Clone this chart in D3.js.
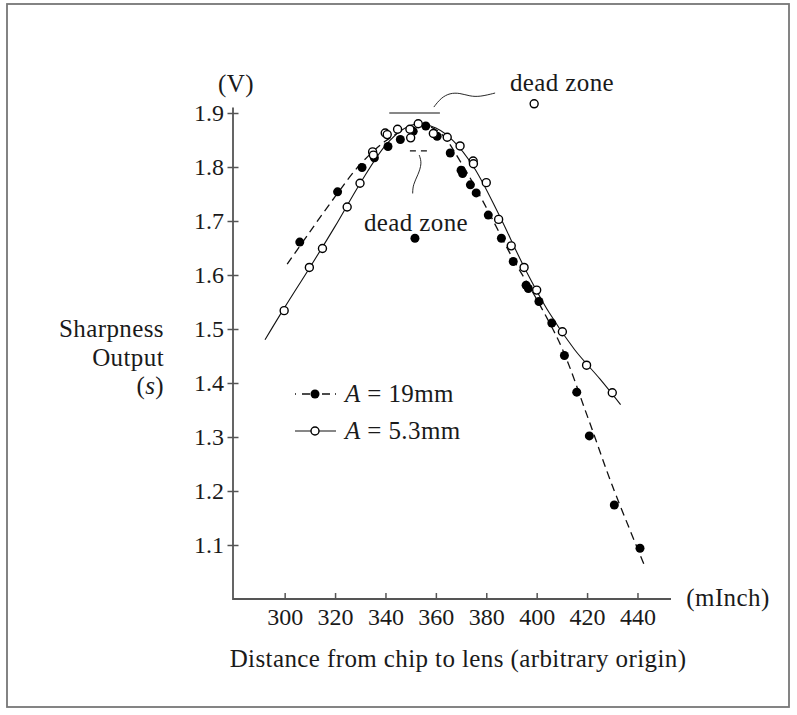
<!DOCTYPE html>
<html lang="en">
  <head>
    <meta charset="UTF-8" />
    <title>Sharpness Output</title>
    <script src="https://d3js.org/d3.v7.min.js"></script>
    <style>
      body { margin: 0; background: #fff; }
      text { font-family: "Liberation Serif", "DejaVu Serif", serif; fill: #1a1a1a; }
      .lab { letter-spacing: 0.4px; }
    </style>
  </head>
  <body></body>
  <script>
    // A = 19mm (filled dots, dashed fit)
    var filledX = [306, 321, 330.7, 335.6, 341, 345.9, 351, 356, 360.5, 365.7, 370, 370.6, 373.7, 376,
                   380.8, 386, 390.7, 395.8, 396.7, 400.9, 406, 411, 415.9, 420.9, 430.8, 441];
    var filledY = [1.661, 1.754, 1.799, 1.817, 1.838, 1.851, 1.866, 1.876, 1.857, 1.826, 1.794, 1.788, 1.767, 1.752,
                   1.711, 1.668, 1.625, 1.581, 1.575, 1.551, 1.511, 1.451, 1.383, 1.302, 1.174, 1.094];
    // A = 5.3mm (open circles, solid fit)
    var openX = [299.8, 309.8, 315, 324.8, 329.9, 334.9, 335.2, 339.9, 340.7, 344.8, 349.7, 350, 353, 359,
                 364.5, 369.6, 374.8, 374.9, 380, 384.9, 389.9, 395, 400, 410.2, 419.8, 430];
    var openY = [1.534, 1.614, 1.649, 1.726, 1.770, 1.828, 1.822, 1.863, 1.860, 1.870, 1.870, 1.854, 1.880, 1.862,
                 1.855, 1.839, 1.811, 1.806, 1.771, 1.703, 1.654, 1.614, 1.572, 1.495, 1.433, 1.382];
    // "dead zone" outliers
    var filledOutlier = [351.7, 1.668];
    var openOutlier = [399, 1.917];

    // fitted curves
    var dashedFitX = [301, 310, 320, 330, 340, 348, 355, 362, 370, 380, 390, 400, 410, 420, 430, 442.7];
    var dashedFitY = [1.620, 1.680, 1.745, 1.805, 1.848, 1.870, 1.878, 1.862, 1.808, 1.725, 1.635, 1.555, 1.465, 1.340, 1.210, 1.063];
    var solidFitX = [292.2, 300, 310, 320, 330, 340, 347, 353, 360, 367, 375, 385, 395, 405, 415, 425, 433.3];
    var solidFitY = [1.480, 1.540, 1.614, 1.690, 1.770, 1.840, 1.870, 1.880, 1.872, 1.848, 1.800, 1.712, 1.615, 1.530, 1.462, 1.408, 1.360];

    // dead zone marks and leader lines
    var solidZoneX = [341.5, 361.6], solidZoneY = 1.90;
    var dashedZoneX = [349.7, 356.9], dashedZoneY = 1.830;
    var upperLeaderX = [359.2, 362, 365.6, 369.5, 373.5, 377.5, 383.5];
    var upperLeaderY = [1.911, 1.928, 1.937, 1.937, 1.931, 1.930, 1.937];
    var lowerLeaderX = [353.4, 354.5, 352.9, 350.9, 350.8];
    var lowerLeaderY = [1.822, 1.807, 1.785, 1.767, 1.751];

    var xTicks = [300, 320, 340, 360, 380, 400, 420, 440];
    var yTicks = [1.1, 1.2, 1.3, 1.4, 1.5, 1.6, 1.7, 1.8, 1.9];
    var legendLabels = ["19mm", "5.3mm"];

    var W = 797, H = 715;
    var axisColor = "#555";
    var fs = 24, lfs = 25;

    var svg = d3.select("body").append("svg")
      .attr("width", W)
      .attr("height", H);

    svg.append("rect")
      .attr("x", 7).attr("y", 4)
      .attr("width", 782).attr("height", 703)
      .attr("fill", "none")
      .attr("stroke", "#777")
      .attr("stroke-width", 1.8);

    var x = d3.scaleLinear().domain([279.5, 453.3]).range([233, 671]);
    var y = d3.scaleLinear().domain([1.0, 1.91]).range([599, 107.6]);

    // axes
    var xAxis = svg.append("g")
      .attr("transform", "translate(0," + y(1.0) + ")")
      .call(d3.axisBottom(x).tickValues(xTicks).tickSize(-6).tickPadding(9).tickFormat(d3.format("d")));
    xAxis.select(".domain").remove();
    xAxis.selectAll("line").attr("stroke", axisColor).attr("stroke-width", 1.5);
    xAxis.selectAll("text").attr("font-size", fs).attr("fill", "#1a1a1a");
    xAxis.attr("font-family", null);

    var yAxis = svg.append("g")
      .attr("transform", "translate(" + x(279.5) + ",0)")
      .call(d3.axisLeft(y).tickValues(yTicks).tickSize(5.5).tickPadding(3.5).tickFormat(d3.format(".1f")));
    yAxis.select(".domain").remove();
    yAxis.selectAll("line").attr("x1", 5.5).attr("stroke", axisColor).attr("stroke-width", 1.5);
    yAxis.selectAll("text").attr("font-size", fs).attr("fill", "#1a1a1a");
    yAxis.attr("font-family", null);

    svg.append("path")
      .attr("d", "M" + x(279.5) + "," + y(1.91) + "V" + y(1.0) + "H" + x(453.3))
      .attr("fill", "none")
      .attr("stroke", axisColor)
      .attr("stroke-width", 1.8);

    // axis labels
    svg.append("text").attr("class", "lab").attr("x", 236).attr("y", 92).attr("text-anchor", "middle")
      .attr("font-size", lfs).text("(V)");
    svg.append("text").attr("class", "lab").attr("x", 728).attr("y", 606).attr("text-anchor", "middle")
      .attr("font-size", lfs).text("(mInch)");
    svg.append("text").attr("class", "lab").attr("x", 458).attr("y", 667).attr("text-anchor", "middle")
      .attr("font-size", lfs).text("Distance from chip to lens (arbitrary origin)");

    var yl = svg.append("text").attr("class", "lab").attr("font-size", lfs).attr("text-anchor", "end");
    yl.append("tspan").attr("x", 164).attr("y", 337).text("Sharpness");
    yl.append("tspan").attr("x", 164).attr("y", 366).text("Output");
    var sl = yl.append("tspan").attr("x", 164).attr("y", 394);
    sl.append("tspan").text("(");
    sl.append("tspan").attr("font-style", "italic").text("s");
    sl.append("tspan").text(")");

    // fitted curves
    var line = d3.line().x(d => x(d[0])).y(d => y(d[1])).curve(d3.curveCatmullRom.alpha(0.5));
    var dashedFit = d3.zip(dashedFitX, dashedFitY);
    var solidFit = d3.zip(solidFitX, solidFitY);

    svg.append("path").datum(dashedFit)
      .attr("d", line)
      .attr("fill", "none")
      .attr("stroke", "#111")
      .attr("stroke-width", 1.3)
      .attr("stroke-dasharray", "8,5");

    svg.append("path").datum(solidFit)
      .attr("d", line)
      .attr("fill", "none")
      .attr("stroke", "#111")
      .attr("stroke-width", 1.1);

    // dead zone marks
    svg.append("line")
      .attr("x1", x(solidZoneX[0])).attr("x2", x(solidZoneX[1]))
      .attr("y1", y(solidZoneY)).attr("y2", y(solidZoneY))
      .attr("stroke", "#111").attr("stroke-width", 1.1);
    svg.append("line")
      .attr("x1", x(dashedZoneX[0])).attr("x2", x(dashedZoneX[1]))
      .attr("y1", y(dashedZoneY)).attr("y2", y(dashedZoneY))
      .attr("stroke", "#111").attr("stroke-width", 1.2)
      .attr("stroke-dasharray", "6,5");

    var leader = d3.line().x(d => x(d[0])).y(d => y(d[1])).curve(d3.curveBasis);
    svg.append("path").datum(d3.zip(upperLeaderX, upperLeaderY))
      .attr("d", leader).attr("fill", "none").attr("stroke", "#111").attr("stroke-width", 0.9);
    svg.append("path").datum(d3.zip(lowerLeaderX, lowerLeaderY))
      .attr("d", leader).attr("fill", "none").attr("stroke", "#111").attr("stroke-width", 0.9);

    svg.append("text").attr("class", "lab").attr("x", 562).attr("y", 91).attr("text-anchor", "middle")
      .attr("font-size", lfs).text("dead zone");
    svg.append("text").attr("class", "lab").attr("x", 416).attr("y", 231).attr("text-anchor", "middle")
      .attr("font-size", lfs).text("dead zone");

    // points
    var filled = d3.zip(filledX, filledY).concat([filledOutlier]);
    var open = d3.zip(openX, openY).concat([openOutlier]);

    svg.append("g").selectAll("circle").data(filled).join("circle")
      .attr("cx", d => x(d[0])).attr("cy", d => y(d[1]))
      .attr("r", 4.5).attr("fill", "#000");

    svg.append("g").selectAll("circle").data(open).join("circle")
      .attr("cx", d => x(d[0])).attr("cy", d => y(d[1]))
      .attr("r", 4).attr("fill", "#fff").attr("stroke", "#000").attr("stroke-width", 1.4);

    // legend
    var legendRows = [394, 431];
    var lg = svg.append("g");
    lg.append("line").attr("x1", 295).attr("x2", 336).attr("y1", legendRows[0]).attr("y2", legendRows[0])
      .attr("stroke", "#111").attr("stroke-width", 1.3).attr("stroke-dasharray", "1,6,8,5");
    lg.append("circle").attr("cx", 315).attr("cy", legendRows[0]).attr("r", 4.5).attr("fill", "#000");
    lg.append("line").attr("x1", 295).attr("x2", 336).attr("y1", legendRows[1]).attr("y2", legendRows[1])
      .attr("stroke", "#111").attr("stroke-width", 1.1);
    lg.append("circle").attr("cx", 315).attr("cy", legendRows[1]).attr("r", 4)
      .attr("fill", "#fff").attr("stroke", "#000").attr("stroke-width", 1.4);

    legendLabels.forEach(function (lab, i) {
      var t = lg.append("text").attr("class", "lab").attr("x", 345).attr("y", legendRows[i] + 8).attr("font-size", lfs);
      t.append("tspan").attr("font-style", "italic").text("A");
      t.append("tspan").text(" = " + lab);
    });
  </script>
</html>
